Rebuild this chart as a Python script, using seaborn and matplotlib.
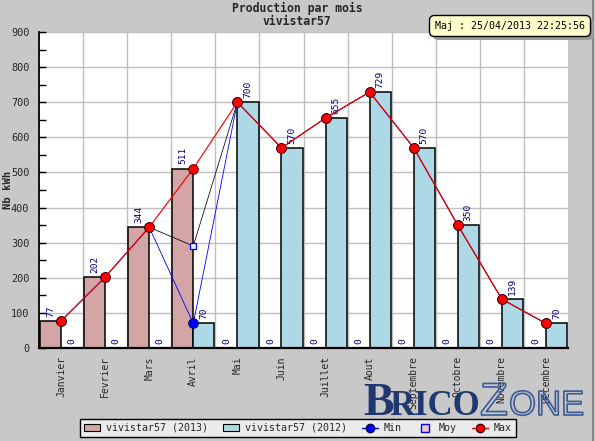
import numpy as np
import pandas as pd
import matplotlib
matplotlib.use("Agg")
import matplotlib.pyplot as plt
import seaborn as sns
from matplotlib.patches import Patch
from matplotlib.lines import Line2D
from matplotlib import patheffects as pe

months = ["Janvier", "Fevrier", "Mars", "Avril", "Mai", "Juin", "Juillet",
          "Aout", "Septembre", "Octobre", "Novembre", "Decembre"]
prod_2013 = [77, 202, 344, 511, 0, 0, 0, 0, 0, 0, 0, 0]
prod_2012 = [0, 0, 0, 70, 700, 570, 655, 729, 570, 350, 139, 70]
min_vals = [77, 202, 344, 70, 700, 570, 655, 729, 570, 350, 139, 70]
moy_vals = [77, 202, 344, 290.5, 700, 570, 655, 729, 570, 350, 139, 70]
max_vals = [77, 202, 344, 511, 700, 570, 655, 729, 570, 350, 139, 70]
series_names = ["vivistar57 (2013)", "vivistar57 (2012)"]
title_text = "Production par mois\nvivistar57"
stamp_text = "Maj : 25/04/2013 22:25:56"
y_ticks = list(range(0, 1000, 100))

MONO = "DejaVu Sans Mono"
BG = "#C8C8C8"
C2013 = "#D4A5A5"
C2012 = "#ADD8E6"

sns.set_theme(style="white")
plt.rcParams["font.family"] = [MONO, "DejaVu Sans"]

df = pd.DataFrame({
    "mois": months * 2,
    "val": prod_2013 + prod_2012,
    "serie": [series_names[0]] * 12 + [series_names[1]] * 12,
})

fig = plt.figure(figsize=(5.95, 4.41), dpi=100, facecolor=BG)
ax = fig.add_axes([39 / 595, 1 - 348 / 441, (568 - 39) / 595, (348 - 32) / 441])
ax.set_facecolor("white")

sns.barplot(data=df, x="mois", y="val", hue="serie", hue_order=series_names,
            order=months, palette=[C2013, C2012], width=0.96,
            edgecolor="black", linewidth=1.1, ax=ax, legend=False,
            errorbar=None, saturation=1, zorder=2)

for cont, vals in zip(ax.containers, [prod_2013, prod_2012]):
    ax.bar_label(cont, labels=[str(v) for v in vals], rotation=90, padding=3,
                 color="#000080", fontsize=6.8, family=MONO)

pos = np.arange(len(months))
sns.lineplot(x=pos, y=min_vals, color="blue", linewidth=0.6, marker="o",
             markersize=7, markerfacecolor="blue", markeredgecolor="#000040",
             markeredgewidth=0.6, ax=ax, legend=False, sort=False, zorder=3)
sns.lineplot(x=pos, y=moy_vals, color="black", linewidth=0.55, marker="s",
             markersize=5, markerfacecolor="#E8F4FF", markeredgecolor="blue",
             markeredgewidth=0.9, ax=ax, legend=False, sort=False, zorder=4)
sns.lineplot(x=pos, y=max_vals, color="red", linewidth=0.85, marker="o",
             markersize=7, markerfacecolor="red", markeredgecolor="#400000",
             markeredgewidth=0.6, ax=ax, legend=False, sort=False, zorder=5)

ax.set_xlim(-0.5, 11.5)
ax.set_ylim(0, 900)
ax.set_yticks(y_ticks)
ax.set_yticks(np.arange(50, 900, 100), minor=True)
ax.set_xticks(pos)
ax.set_xticklabels(months, rotation=90, fontsize=7, family=MONO)
ax.set_xticks(np.arange(0.5, 11.5, 1), minor=True)
ax.tick_params(axis="x", which="major", length=0, pad=6)
ax.tick_params(axis="x", which="minor", length=3, direction="in", color="black", width=1)
ax.tick_params(axis="y", which="both", direction="in", length=5, color="black", width=1,
               labelsize=7.4, pad=7, left=True)
for lab in ax.get_yticklabels():
    lab.set_family(MONO)
ax.grid(True, which="major", axis="y", color="#BEBEBE", linewidth=1, zorder=0)
ax.grid(True, which="minor", axis="x", color="#BEBEBE", linewidth=1, zorder=0)
ax.set_axisbelow(True)
ax.set_xlabel("")
ax.set_ylabel("Nb kWh", fontsize=7.6, fontweight="bold", family=MONO)
ax.yaxis.set_label_coords(-0.050, 0.5)
for side in ["top", "right"]:
    ax.spines[side].set_visible(False)
ax.spines["left"].set_color("black")
ax.spines["left"].set_linewidth(1.3)
ax.spines["bottom"].set_color("black")
ax.spines["bottom"].set_linewidth(1.6)

fig.text(297 / 595, 1 - 15 / 441, title_text, ha="center", va="center",
         fontsize=8.3, fontweight="bold", family=MONO, linespacing=1.05)

# timestamp box with shadow
st = fig.text(510 / 595, 1 - 26 / 441, stamp_text, ha="center", va="center",
              fontsize=7.2, family=MONO, color="black",
              bbox=dict(boxstyle="round,pad=0.55,rounding_size=0.5", fc="#FFFFCC",
                        ec="black", lw=1))
st.get_bbox_patch().set_path_effects([
    pe.SimplePatchShadow(offset=(2.5, -2.5), shadow_rgbFace="#9A9A9A", alpha=1),
    pe.Normal()])

# right frame line
fig.add_artist(Line2D([592.5 / 595, 592.5 / 595], [0, 1], color="#7A7A7A", lw=1.2,
                      transform=fig.transFigure))

# watermark
wm_color = "#17306A"
base_y = 1 - 415 / 441
fig.text(363 / 595, base_y, "B", fontsize=33, fontweight="bold",
         family="Liberation Serif", color=wm_color, alpha=0.95, va="baseline")
fig.text(389 / 595, base_y, "RICO", fontsize=25, fontweight="bold",
         family="Liberation Serif", color=wm_color, alpha=0.95, va="baseline")
zt = fig.text(480 / 595, base_y, "Z", fontsize=33, family="Liberation Sans",
              color="none", va="baseline")
zt.set_path_effects([pe.Stroke(linewidth=1.2, foreground="#3A5A98")])
ot = fig.text(509 / 595, base_y, "ONE", fontsize=25, family="Liberation Sans",
              color="none", va="baseline")
ot.set_path_effects([pe.Stroke(linewidth=1.2, foreground="#3A5A98")])

handles = [
    Patch(facecolor=C2013, edgecolor="black", lw=0.8),
    Patch(facecolor=C2012, edgecolor="black", lw=0.8),
    Line2D([], [], color="blue", lw=1, marker="o", markersize=6,
           markerfacecolor="blue", markeredgecolor="#000040"),
    Line2D([], [], color="none", lw=0, marker="s", markersize=6,
           markerfacecolor="#E8C8C8", markeredgecolor="blue"),
    Line2D([], [], color="red", lw=1, marker="o", markersize=6,
           markerfacecolor="red", markeredgecolor="#400000"),
]
labels = series_names + ["Min", "Moy", "Max"]
leg = fig.legend(handles, labels, loc="center", bbox_to_anchor=(298 / 595, 1 - 428 / 441),
                 ncol=5, frameon=True, fancybox=False,
                 prop={"family": MONO, "size": 7.2}, handlelength=1.6,
                 handletextpad=0.6, columnspacing=1.5, borderpad=0.4)
leg.get_frame().set_facecolor("#EBEBEB")
leg.get_frame().set_edgecolor("black")
leg.get_frame().set_linewidth(1.0)
leg.get_frame().set_alpha(1)

fig.savefig("out.png", dpi=100, facecolor=BG)
